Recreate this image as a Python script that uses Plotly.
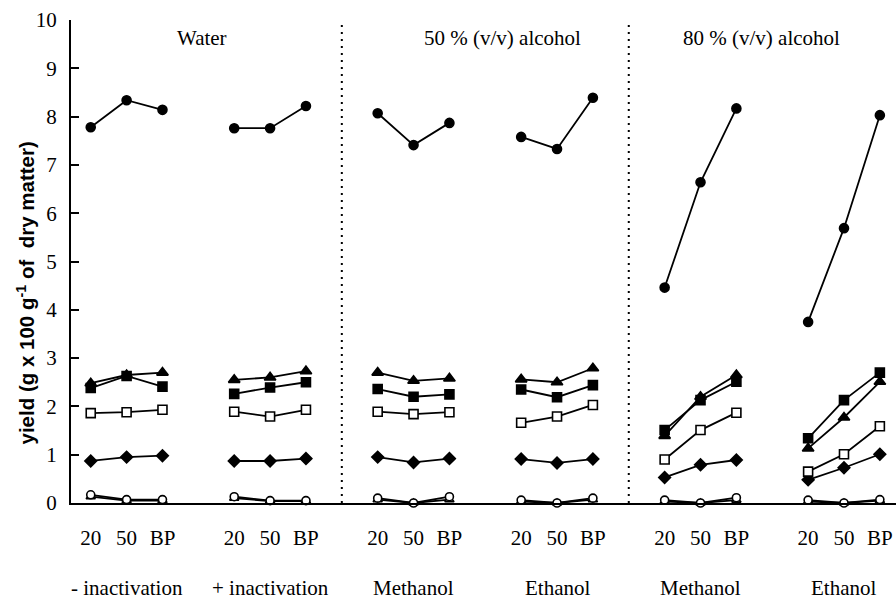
import plotly.graph_objects as go

# ---- data ----
temps = ["20", "50", "BP"]
groups = ["- inactivation", "+ inactivation", "Methanol", "Ethanol", "Methanol", "Ethanol"]
sections = ["Water", "50 % (v/v) alcohol", "80 % (v/v) alcohol"]

filled_circle = [7.78, 8.34, 8.14, 7.76, 7.76, 8.22, 8.07, 7.41, 7.87,
                 7.58, 7.33, 8.39, 4.46, 6.64, 8.17, 3.75, 5.69, 8.03]
filled_triangle = [2.48, 2.65, 2.70, 2.55, 2.60, 2.73, 2.70, 2.53, 2.58,
                   2.56, 2.50, 2.79, 1.39, 2.20, 2.65, 1.13, 1.77, 2.51]
filled_square = [2.38, 2.63, 2.41, 2.26, 2.39, 2.50, 2.36, 2.20, 2.25,
                 2.35, 2.19, 2.44, 1.51, 2.13, 2.51, 1.34, 2.13, 2.70]
open_square = [1.86, 1.88, 1.93, 1.89, 1.79, 1.93, 1.89, 1.84, 1.88,
               1.66, 1.79, 2.03, 0.90, 1.51, 1.87, 0.65, 1.01, 1.59]
filled_diamond = [0.87, 0.95, 0.98, 0.87, 0.87, 0.92, 0.95, 0.84, 0.92,
                  0.91, 0.83, 0.91, 0.53, 0.79, 0.89, 0.48, 0.73, 1.01]
open_circle = [0.17, 0.07, 0.07, 0.13, 0.05, 0.05, 0.10, 0.00, 0.13,
               0.06, 0.00, 0.10, 0.06, 0.00, 0.11, 0.06, 0.00, 0.07]
open_triangle = [0.13, 0.05, 0.05, 0.10, 0.04, 0.04, 0.07, 0.00, 0.07,
                 0.03, 0.00, 0.07, 0.03, 0.00, 0.06, 0.03, 0.00, 0.05]

SERIF = "Liberation Serif"
SANS = "Liberation Sans"

n_t = len(temps)
step = n_t + 1  # gap of one slot between groups


def build(values):
    xs, ys = [], []
    for g in range(len(groups)):
        for i in range(n_t):
            xs.append(g * step + i)
            ys.append(values[g * n_t + i])
        xs.append(None)
        ys.append(None)
    return xs, ys


series = [
    ("open triangle", open_triangle, "triangle-up", "white", 8),
    ("open circle", open_circle, "circle", "white", 8),
    ("filled diamond", filled_diamond, "diamond", "black", 9),
    ("open square", open_square, "square", "white", 9),
    ("filled square", filled_square, "square", "black", 9),
    ("filled triangle", filled_triangle, "triangle-up", "black", 10),
    ("filled circle", filled_circle, "circle", "black", 9),
]

fig = go.Figure()
for name, vals, sym, fill, size in series:
    xs, ys = build(vals)
    fig.add_trace(go.Scatter(
        x=xs, y=ys, name=name, mode="lines+markers",
        line=dict(color="black", width=1.8),
        marker=dict(symbol=sym, color=fill, size=size,
                    line=dict(color="black", width=1.6)),
        cliponaxis=False, connectgaps=False, showlegend=False,
    ))

tickvals = [g * step + i for g in range(len(groups)) for i in range(n_t)]
ticktext = [temps[i] for g in range(len(groups)) for i in range(n_t)]

# dotted separators between the sections
for sep in [2 * step - 1, 4 * step - 1]:
    fig.add_shape(type="line", xref="x", yref="y", x0=sep, x1=sep, y0=0, y1=10,
                  line=dict(color="black", width=2, dash="2px,5px"))

annotations = []
sec_x = [3.1, 11.47, 18.7]
for txt, xv in zip(sections, sec_x):
    annotations.append(dict(x=xv, y=9.63, xref="x", yref="y", text=txt,
                            showarrow=False, xanchor="center", yanchor="middle",
                            font=dict(family=SERIF, size=21, color="black")))
for g, txt in enumerate(groups):
    annotations.append(dict(x=g * step + 1, y=-0.176, xref="x", yref="paper", text=txt,
                            showarrow=False, xanchor="center", yanchor="middle",
                            font=dict(family=SERIF, size=21, color="black")))
annotations.append(dict(x=-0.055, y=4.35, xref="paper", yref="y",
                        text="<b>yield (g x 100 g<sup>-1</sup> of  dry matter)</b>",
                        textangle=-90, showarrow=False, xanchor="center", yanchor="middle",
                        font=dict(family=SANS, size=20.5, color="black")))

fig.update_layout(
    width=896, height=599,
    margin=dict(l=71, r=0, t=20, b=96),
    paper_bgcolor="white", plot_bgcolor="white",
    font=dict(family=SERIF),
    annotations=annotations,
    xaxis=dict(range=[-0.55, 22.45], tickvals=tickvals, ticktext=ticktext,
               showline=True, linecolor="black", linewidth=2, ticks="",
               showgrid=False, zeroline=False, ticklabelstandoff=15,
               tickfont=dict(family=SERIF, size=21, color="black")),
    yaxis=dict(range=[0, 10], dtick=1, tick0=0, showline=True, linecolor="black",
               linewidth=2, ticks="inside", ticklen=8, tickwidth=1.5, tickcolor="black",
               showgrid=False, zeroline=False, ticklabelstandoff=8,
               tickfont=dict(family=SERIF, size=21, color="black")),
)

fig.write_html("out.html")
